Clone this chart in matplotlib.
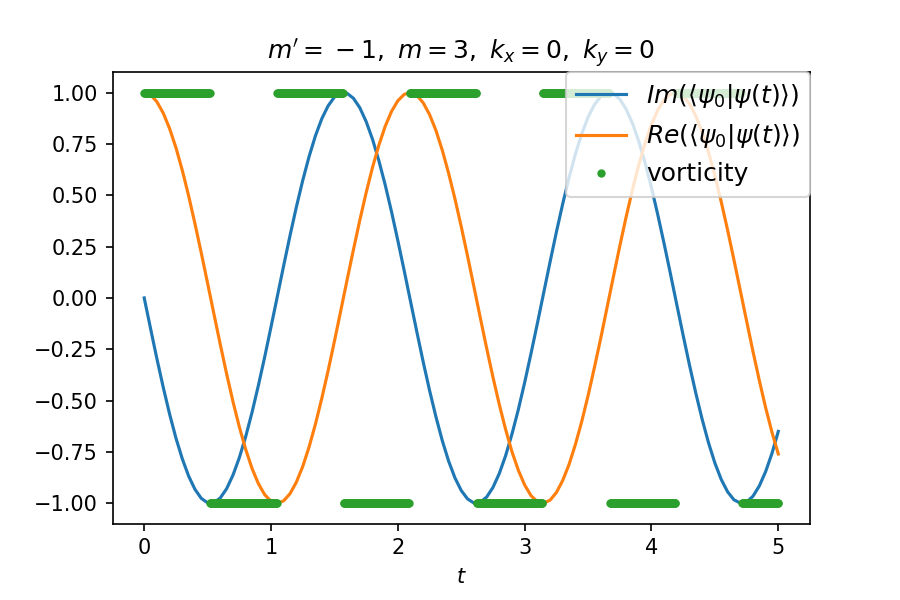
import numpy as np
import matplotlib
matplotlib.use("Agg")
import matplotlib.pyplot as plt

# time samples (step 0.05)
t = [round(0.05 * k, 2) for k in range(101)]

im_vals = [
    0.000, -0.149, -0.296, -0.435, -0.565, -0.682, -0.783, -0.867, -0.932, -0.976,
    -0.998, -0.997, -0.974, -0.929, -0.863, -0.778, -0.676, -0.558, -0.427, -0.288,
    -0.141, 0.008, 0.158, 0.304, 0.443, 0.572, 0.688, 0.789, 0.872, 0.935,
    0.978, 0.998, 0.996, 0.972, 0.926, 0.859, 0.773, 0.669, 0.551, 0.420,
    0.279, 0.133, -0.017, -0.166, -0.312, -0.450, -0.578, -0.694, -0.794, -0.876,
    -0.938, -0.979, -0.999, -0.995, -0.970, -0.923, -0.855, -0.768, -0.663, -0.544,
    -0.412, -0.271, -0.125, 0.025, 0.174, 0.320, 0.458, 0.585, 0.700, 0.799,
    0.880, 0.941, 0.981, 0.999, 0.994, 0.968, 0.919, 0.850, 0.762, 0.657,
    0.537, 0.404, 0.263, 0.116, -0.034, -0.183, -0.328, -0.465, -0.592, -0.706,
    -0.804, -0.884, -0.944, -0.983, -0.999, -0.994, -0.966, -0.916, -0.846, -0.757,
    -0.650,
]

re_vals = [
    1.000, 0.989, 0.955, 0.900, 0.825, 0.732, 0.622, 0.498, 0.362, 0.219,
    0.071, -0.079, -0.227, -0.370, -0.505, -0.628, -0.737, -0.830, -0.904, -0.958,
    -0.990, -1.000, -0.988, -0.953, -0.897, -0.821, -0.726, -0.615, -0.490, -0.355,
    -0.211, -0.062, 0.088, 0.235, 0.378, 0.512, 0.635, 0.743, 0.835, 0.908,
    0.960, 0.991, 1.000, 0.986, 0.950, 0.893, 0.816, 0.720, 0.608, 0.483,
    0.347, 0.203, 0.054, -0.096, -0.244, -0.386, -0.519, -0.641, -0.749, -0.839,
    -0.911, -0.963, -0.992, -1.000, -0.985, -0.948, -0.889, -0.811, -0.714, -0.602,
    -0.476, -0.339, -0.196, -0.046, 0.104, 0.252, 0.394, 0.527, 0.648, 0.754,
    0.844, 0.915, 0.965, 0.993, 0.999, 0.983, 0.945, 0.885, 0.806, 0.709,
    0.595, 0.468, 0.331, 0.186, 0.037, -0.112, -0.260, -0.401, -0.534, -0.654,
    -0.760,
]

# vorticity: piecewise constant segments
vort_breaks = [0.0, 0.52, 1.05, 1.57, 2.09, 2.62, 3.14, 3.67, 4.19, 4.71, 5.0]
vort_levels = [1, -1, 1, -1, 1, -1, 1, -1, 1, -1]

t_dense = np.linspace(0, 5, 1000)
idx = np.clip(np.searchsorted(vort_breaks, t_dense, side="right") - 1, 0, len(vort_levels) - 1)
vort = np.array(vort_levels)[idx]

fig, ax = plt.subplots(figsize=(6, 4), dpi=150)
fig.subplots_adjust(left=0.125, right=0.9, top=0.88, bottom=0.127)
ax.plot(t, im_vals, color="C0", label=r"$Im(\langle\psi_0|\psi(t)\rangle)$")
ax.plot(t, re_vals, color="C1", label=r"$Re(\langle\psi_0|\psi(t)\rangle)$")
ax.plot(t_dense, vort, ".", color="C2", label="vorticity")
ax.set_xlabel(r"$t$")
ax.set_title(r"$m'=\:-\:1,\ m=3,\ k_x=0,\ k_y=0$")
ax.legend(loc="upper right", fontsize=12, borderaxespad=0, labelspacing=0.45)
fig.savefig("out.png", dpi=150)
